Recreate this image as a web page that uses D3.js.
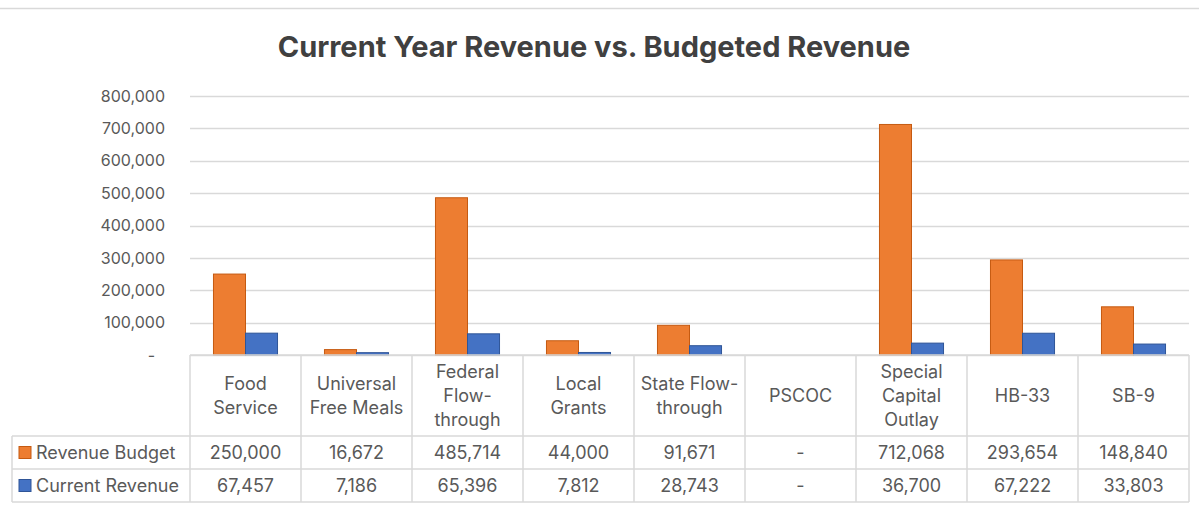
<!DOCTYPE html>
<html>
<head>
<meta charset="utf-8">
<script src="https://cdn.jsdelivr.net/npm/d3@7"></script>
<style>
  body { margin: 0; background: #fff; }
  svg { display: block; font-family: Inter, "Noto Sans", sans-serif; }
</style>
</head>
<body>
<div id="chart"></div>
<script>
// chart data
var categories = ["Food Service", "Universal Free Meals", "Federal Flow-through", "Local Grants",
                  "State Flow-through", "PSCOC", "Special Capital Outlay", "HB-33", "SB-9"];
// how the header cells wrap
var categoryLines = [["Food", "Service"], ["Universal", "Free Meals"], ["Federal", "Flow-", "through"],
                     ["Local", "Grants"], ["State Flow-", "through"], ["PSCOC"],
                     ["Special", "Capital", "Outlay"], ["HB-33"], ["SB-9"]];
var seriesNames = ["Revenue Budget", "Current Revenue"];
var revenueBudget = [250000, 16672, 485714, 44000, 91671, 0, 712068, 293654, 148840];
var currentRevenue = [67457, 7186, 65396, 7812, 28743, 0, 36700, 67222, 33803];
var yTicks = [0, 100000, 200000, 300000, 400000, 500000, 600000, 700000, 800000];

var colors = ["#ED7D31", "#4472C4"];
var strokes = ["#C55A11", "#2F5597"];
var gridColor = "#d9d9d9";
var textColor = "#595959";

var W = 1199, H = 507;
var plot = {left: 190, right: 1189, top: 96, bottom: 355};

var svg = d3.select("#chart")
    .append("svg")
    .attr("width", W)
    .attr("height", H);

// top border line of the chart area
svg.append("line")
    .attr("x1", 0).attr("x2", W)
    .attr("y1", 8.5).attr("y2", 8.5)
    .attr("stroke", gridColor)
    .attr("stroke-width", 1.5);

// title
svg.append("text")
    .attr("x", 594)
    .attr("y", 57)
    .attr("text-anchor", "middle")
    .attr("font-size", 29)
    .attr("font-weight", "bold")
    .attr("fill", "#404040")
    .text("Current Year Revenue vs. Budgeted Revenue");

// scales
var x = d3.scaleBand()
    .domain(categories)
    .range([plot.left, plot.right])
    .paddingInner(0.423)
    .paddingOuter(0.2115);

var x1 = d3.scaleBand()
    .domain(seriesNames)
    .range([0, x.bandwidth()]);

var y = d3.scaleLinear()
    .domain([0, 800000])
    .range([plot.bottom, plot.top]);

// gridlines
svg.append("g")
    .selectAll("line")
    .data(yTicks)
    .enter()
    .append("line")
    .attr("x1", plot.left)
    .attr("x2", plot.right)
    .attr("y1", function(d) { return Math.round(y(d)) + 0.5; })
    .attr("y2", function(d) { return Math.round(y(d)) + 0.5; })
    .attr("stroke", gridColor)
    .attr("stroke-width", 1.3);

// y axis labels
var yAxis = svg.append("g")
    .attr("transform", "translate(165,0)")
    .call(d3.axisLeft(y)
        .tickValues(yTicks)
        .tickSize(0)
        .tickPadding(0)
        .tickFormat(function(d) { return d === 0 ? "-" : d3.format(",")(d); }));
yAxis.select(".domain").remove();
yAxis.selectAll("text")
    .attr("font-size", 16)
    .attr("font-family", "Inter, sans-serif")
    .attr("fill", textColor);
yAxis.selectAll(".tick").filter(function(d) { return d === 0; })
    .select("text").attr("dx", -10);

// bars
var values = [revenueBudget, currentRevenue];
var rows = categories.map(function(c, i) {
    return seriesNames.map(function(s, j) { return {cat: c, series: s, idx: j, value: values[j][i]}; });
});

svg.append("g")
    .selectAll("g")
    .data(rows)
    .enter()
    .append("g")
    .selectAll("rect")
    .data(function(d) { return d.filter(function(e) { return e.value > 0; }); })
    .enter()
    .append("rect")
    .attr("x", function(d) { return x(d.cat) + x1(d.series); })
    .attr("y", function(d) { return y(d.value); })
    .attr("width", x1.bandwidth())
    .attr("height", function(d) { return y(0) - y(d.value); })
    .attr("fill", function(d) { return colors[d.idx]; })
    .attr("stroke", function(d) { return strokes[d.idx]; })
    .attr("stroke-width", 1);

// data table under the chart
var step = x.step();
var colEdges = categories.map(function(c) { return x(c) - x.paddingInner() * step / 2; });
colEdges.push(plot.right);
var tableLeft = 12;
var headerBottom = 436, row1Bottom = 469, row2Bottom = 502;

var table = svg.append("g").attr("stroke", gridColor).attr("stroke-width", 1.5);
// vertical lines
colEdges.forEach(function(xe) {
    table.append("line").attr("x1", xe).attr("x2", xe).attr("y1", plot.bottom).attr("y2", row2Bottom);
});
table.append("line").attr("x1", tableLeft).attr("x2", tableLeft).attr("y1", headerBottom).attr("y2", row2Bottom);
// horizontal lines
table.append("line").attr("x1", plot.left).attr("x2", plot.right).attr("y1", plot.bottom).attr("y2", plot.bottom);
[headerBottom, row1Bottom, row2Bottom].forEach(function(yy) {
    table.append("line").attr("x1", tableLeft).attr("x2", plot.right).attr("y1", yy).attr("y2", yy);
});

// header labels
var lineH = 24;
svg.append("g")
    .selectAll("text")
    .data(categories)
    .enter()
    .append("text")
    .attr("text-anchor", "middle")
    .attr("font-size", 18)
    .attr("fill", textColor)
    .each(function(d, i) {
        var lines = categoryLines[i];
        var cx = x(d) + x.bandwidth() / 2;
        var startY = 396 - (lines.length - 1) * lineH / 2 + 6;
        var t = d3.select(this);
        lines.forEach(function(l, k) {
            t.append("tspan").attr("x", cx).attr("y", startY + k * lineH).text(l);
        });
    });

// value rows
var rowMid = [(headerBottom + row1Bottom) / 2, (row1Bottom + row2Bottom) / 2];
values.forEach(function(vals, j) {
    svg.append("g")
        .selectAll("text")
        .data(vals)
        .enter()
        .append("text")
        .attr("x", function(d, i) { return x(categories[i]) + x.bandwidth() / 2; })
        .attr("y", rowMid[j] + 6)
        .attr("text-anchor", "middle")
        .attr("font-size", 18)
        .attr("fill", textColor)
        .text(function(d) { return d === 0 ? "-" : d3.format(",")(d); });

    // legend key
    svg.append("rect")
        .attr("x", 19).attr("y", rowMid[j] - 6)
        .attr("width", 12).attr("height", 12)
        .attr("fill", colors[j])
        .attr("stroke", strokes[j]);
    svg.append("text")
        .attr("x", 36).attr("y", rowMid[j] + 6)
        .attr("font-size", 18)
        .attr("fill", textColor)
        .text(seriesNames[j]);
});
</script>
</body>
</html>
